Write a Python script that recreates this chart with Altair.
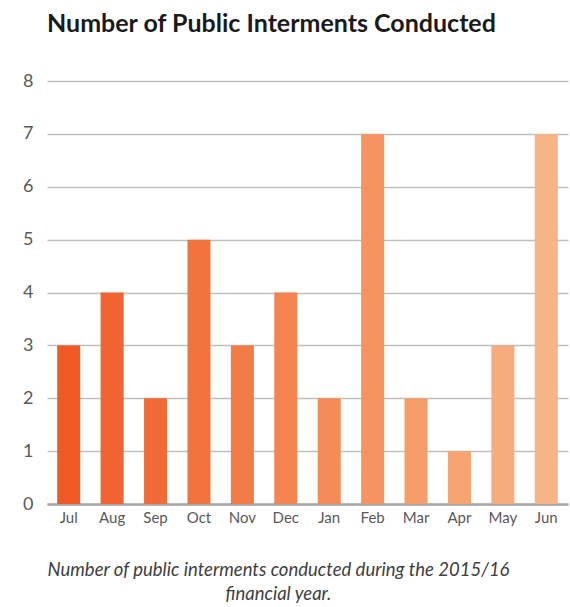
import altair as alt
import pandas as pd

months = ["Jul", "Aug", "Sep", "Oct", "Nov", "Dec", "Jan", "Feb", "Mar", "Apr", "May", "Jun"]
counts = [3, 4, 2, 5, 3, 4, 2, 7, 2, 1, 3, 7]
colors = ["#F05A24", "#F16330", "#F26B36", "#F3733E", "#F37B46", "#F4834F",
          "#F58B57", "#F59460", "#F69C69", "#F7A473", "#F7AC7D", "#F8B487"]

df = pd.DataFrame({"month": months, "count": counts, "color": colors})

FONT = "Lato"

chart = alt.Chart(df).mark_bar().encode(
    x=alt.X("month:N", sort=months, scale=alt.Scale(paddingInner=0.47, paddingOuter=0.235),
            axis=alt.Axis(
                title=["Number of public interments conducted during the 2015/16", "financial year."],
                titleFont=FONT, titleFontStyle="italic", titleFontWeight="normal",
                titleFontSize=18.5, titleColor="#404040", titleLineHeight=24,
                titleX=231, titleY=56, titleAlign="center", titleBaseline="top",
                labelAngle=0, labelFont=FONT, labelFontSize=15, labelColor="#595959",
                labelPadding=6, ticks=False, domainColor="#A6A6A6", domainWidth=2.5,
                grid=False)),
    y=alt.Y("count:Q", scale=alt.Scale(domain=[0, 8]),
            axis=alt.Axis(title=None, values=list(range(9)), labelFont=FONT, labelFontSize=18,
                          labelColor="#595959", labelPadding=14, ticks=False, domain=False,
                          gridColor="#BFBFBF", gridWidth=1.5)),
    color=alt.Color("color:N", scale=None),
).properties(
    width=521, height=423,
    autosize="none",
    padding={"left": 47, "top": 81, "right": 2, "bottom": 103},
    title=alt.TitleParams("Number of Public Interments Conducted", font=FONT, fontSize=25,
                          fontWeight="bold", color="#1a1a1a", anchor="start", frame="group",
                          offset=35),
).configure_view(stroke=None)

chart.save("out.html", embed_options={"renderer": "svg", "actions": False})
